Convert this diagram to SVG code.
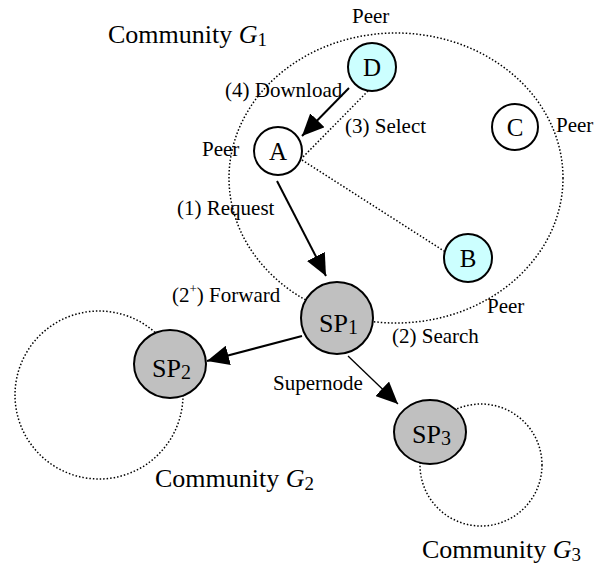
<svg xmlns="http://www.w3.org/2000/svg" width="602" height="566" viewBox="0 0 602 566">
<style>
text{font-family:"Liberation Serif","Times New Roman",serif;fill:#000}
.lbl{font-size:21px}
.big{font-size:26px}
.nt{font-size:25px;text-anchor:middle}
.spt{font-size:26px}
.sub{font-size:20px}
.dot{fill:none;stroke:#000;stroke-width:1.5;stroke-dasharray:1.5 2}
.node{stroke:#000;stroke-width:2}
.peer{fill:#fff}
.sel{fill:#ccffff}
.sp{fill:#c0c0c0}
.arr{stroke:#000;stroke-width:2;fill:none;marker-end:url(#ah)}
</style>
<defs>
<marker id="ah" markerUnits="userSpaceOnUse" markerWidth="22" markerHeight="20" refX="22" refY="10" orient="auto" viewBox="0 0 22 20">
<path d="M0,0 L22,10 L0,20 z" fill="#000"/>
</marker>
</defs>
<g id="communities">
<ellipse id="G1" class="dot" cx="396" cy="178" rx="167" ry="145"/>
<circle id="G2" class="dot" cx="99" cy="395" r="84"/>
<circle id="G3" class="dot" cx="481" cy="465" r="61"/>
</g>
<g id="connectors">
<line class="dot" x1="368" y1="91" x2="302" y2="158"/>
<line class="dot" x1="302" y1="160" x2="444" y2="251"/>
<line class="arr" x1="349" y1="88" x2="302" y2="136"/>
<line class="arr" x1="277" y1="181" x2="326" y2="276"/>
<line class="arr" x1="302" y1="336" x2="207" y2="361"/>
<line class="arr" style="stroke-width:1.3" x1="348" y1="356" x2="398" y2="404"/>
</g>
<g id="nodeA"><circle class="node peer" cx="278" cy="151" r="24"/><text class="nt" x="278" y="160">A</text></g>
<g id="nodeB"><circle class="node sel" cx="468" cy="258" r="24"/><text class="nt" x="468" y="267">B</text></g>
<g id="nodeC"><circle class="node peer" cx="515" cy="127" r="23"/><text class="nt" x="515" y="136">C</text></g>
<g id="nodeD"><circle class="node sel" cx="372" cy="67" r="24"/><text class="nt" x="372" y="76">D</text></g>
<g id="SP1"><circle class="node sp" cx="337" cy="318" r="36"/><text class="spt" x="319" y="332">SP<tspan class="sub" dy="2">1</tspan></text></g>
<g id="SP2"><ellipse class="node sp" cx="170" cy="364" rx="36" ry="34"/><text class="spt" x="152" y="377">SP<tspan class="sub" dy="2">2</tspan></text></g>
<g id="SP3"><ellipse class="node sp" cx="430" cy="432" rx="36" ry="32"/><text class="spt" x="412" y="443">SP<tspan class="sub" dy="2">3</tspan></text></g>
<g id="labels">
<text class="big" x="108" y="43">Community <tspan font-style="italic">G</tspan><tspan style="font-size:19px" dy="3">1</tspan></text>
<text class="big" x="155" y="487">Community <tspan font-style="italic">G</tspan><tspan style="font-size:19px" dy="3">2</tspan></text>
<text class="big" x="422" y="558">Community <tspan font-style="italic">G</tspan><tspan style="font-size:19px" dy="3">3</tspan></text>
<text class="lbl" x="352" y="23">Peer</text>
<text class="lbl" x="556" y="132">Peer</text>
<text class="lbl" x="202" y="156">Peer</text>
<text class="lbl" x="487" y="313">Peer</text>
<text class="lbl" x="225" y="97">(4) Download</text>
<text class="lbl" x="345" y="133">(3) Select</text>
<text class="lbl" x="177" y="215">(1) Request</text>
<text class="lbl" x="172" y="302">(2<tspan style="font-size:13px" dy="-9">+</tspan><tspan dy="9">) Forward</tspan></text>
<text class="lbl" x="392" y="343">(2) Search</text>
<text class="lbl" x="273" y="390">Supernode</text>
</g>
</svg>
